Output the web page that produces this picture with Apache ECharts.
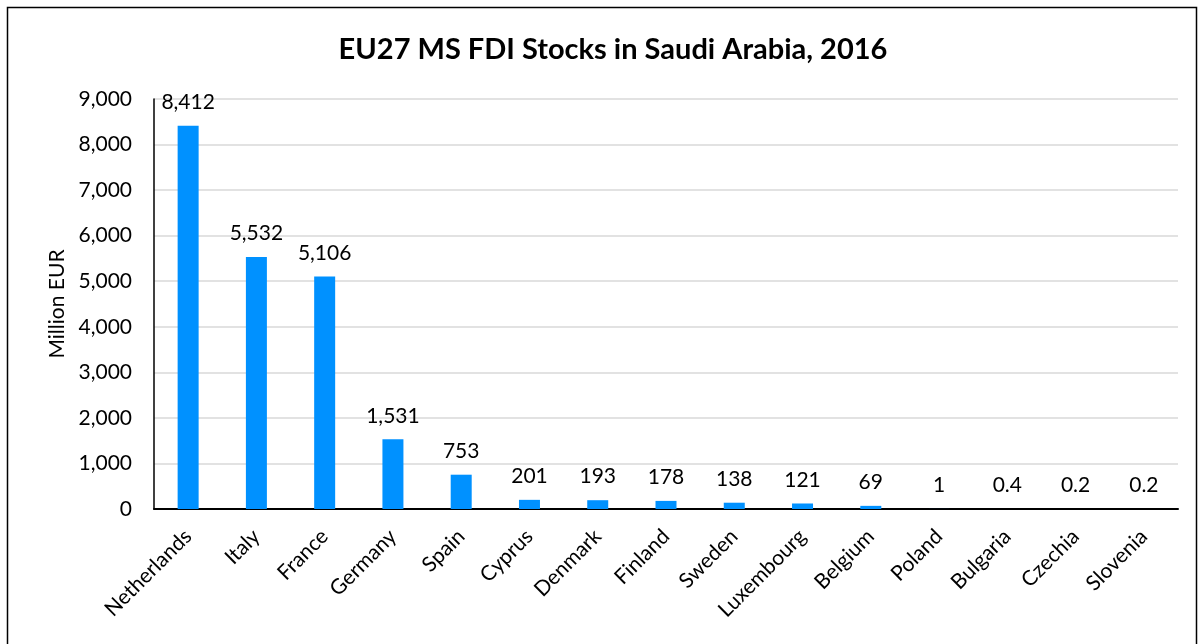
<!DOCTYPE html>
<html>
<head>
<meta charset="utf-8">
<script src="https://cdn.jsdelivr.net/npm/echarts@6/dist/echarts.min.js"></script>
<style>
  html, body { margin: 0; padding: 0; background: #fff; }
  #chart { width: 1203px; height: 644px; }
</style>
</head>
<body>
<div id="chart"></div>
<script>
const countries = ['Netherlands', 'Italy', 'France', 'Germany', 'Spain', 'Cyprus', 'Denmark', 'Finland',
  'Sweden', 'Luxembourg', 'Belgium', 'Poland', 'Bulgaria', 'Czechia', 'Slovenia']
const stocks = [8412, 5532, 5106, 1531, 753, 201, 193, 178, 138, 121, 69, 1, 0.4, 0.2, 0.2]
const yTicks = [0, 1000, 2000, 3000, 4000, 5000, 6000, 7000, 8000, 9000]

const font = 'Lato, "Open Sans", sans-serif'

const chart = echarts.init(document.getElementById('chart'), null, { renderer: 'canvas' })
chart.setOption({
  animation: false,
  backgroundColor: '#fff',
  title: {
    text: 'EU27 MS FDI Stocks in Saudi Arabia, 2016',
    left: 608,
    top: 30,
    textAlign: 'center',
    textStyle: { fontFamily: font, fontSize: 29, fontWeight: 'bold', color: '#000' }
  },
  graphic: [
    {
      type: 'rect',
      shape: { x: 7.5, y: 7.5, width: 1189, height: 660 },
      style: { fill: 'none', stroke: '#000', lineWidth: 1.5 },
      silent: true
    }
  ],
  grid: { left: 154, right: 25, top: 99, bottom: 135, containLabel: false },
  xAxis: {
    type: 'category',
    data: countries,
    axisLine: { lineStyle: { color: '#000', width: 2 } },
    axisTick: { show: false },
    axisLabel: {
      rotate: 45,
      interval: 0,
      margin: 24,
      color: '#000',
      fontSize: 21,
      fontFamily: font
    }
  },
  yAxis: {
    type: 'value',
    min: yTicks[0],
    max: yTicks[yTicks.length - 1],
    interval: 1000,
    name: 'Million EUR',
    nameLocation: 'middle',
    nameGap: 86,
    nameTextStyle: { color: '#000', fontSize: 21, fontFamily: font },
    axisLine: { show: true, lineStyle: { color: '#000', width: 1.5 } },
    axisTick: { show: false },
    axisLabel: {
      color: '#000',
      fontSize: 21,
      fontFamily: font,
      margin: 22,
      formatter: v => v.toLocaleString('en-US')
    },
    splitLine: { lineStyle: { color: '#d9d9d9', width: 1.5 } }
  },
  series: [
    {
      type: 'bar',
      data: stocks,
      barWidth: 21,
      itemStyle: { color: '#0091ff' },
      label: {
        show: true,
        position: 'top',
        distance: 13,
        color: '#000',
        fontSize: 21,
        fontFamily: font,
        formatter: p => p.value.toLocaleString('en-US')
      }
    }
  ]
})
</script>
</body>
</html>
